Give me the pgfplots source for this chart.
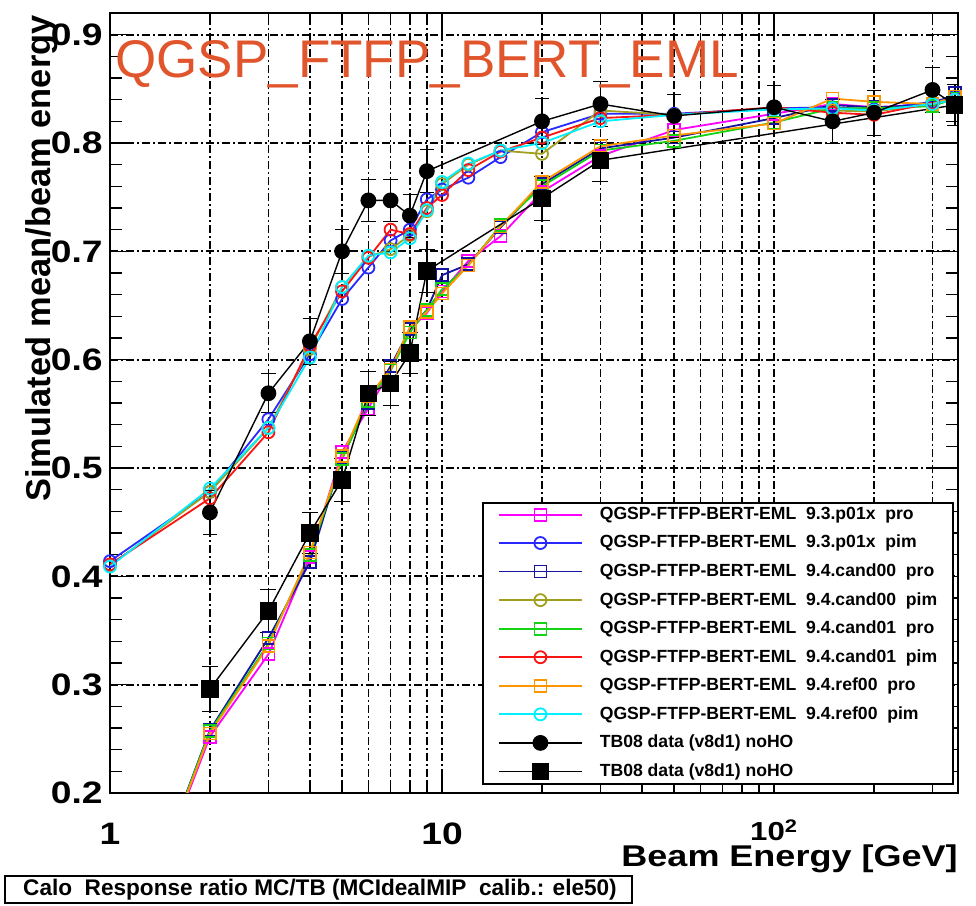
\documentclass[border=0pt]{standalone}
\usepackage{pgfplots}
\usepackage{pgfplotstable}
\pgfplotsset{compat=1.18}
\usepackage{fontspec}
\setmainfont{Liberation Sans}
\newfontfamily\widefont[FakeStretch=1.2]{Liberation Sans}
\definecolor{cMag}{RGB}{255,0,255}
\definecolor{cBlu}{RGB}{40,40,255}
\definecolor{cDbl}{RGB}{20,20,160}
\definecolor{cOli}{RGB}{160,160,30}
\definecolor{cGrn}{RGB}{20,210,20}
\definecolor{cRed}{RGB}{250,20,20}
\definecolor{cOra}{RGB}{255,150,0}
\definecolor{cCya}{RGB}{0,240,255}
\definecolor{cTitle}{RGB}{225,85,45}

\pgfplotstableread{
E   mag   blu   dbl   oli   grn   red   ora   cya
1   0.012 0.414 0.012 0.410 0.012 0.411 0.012 0.409
2   0.252 0.478 0.258 0.478 0.257 0.472 0.255 0.481
3   0.328 0.545 0.343 0.537 0.338 0.533 0.336 0.537
4   0.418 0.605 0.413 0.610 0.420 0.613 0.422 0.602
5   0.515 0.656 0.510 0.667 0.508 0.663 0.511 0.667
6   0.555 0.685 0.560 0.695 0.562 0.694 0.566 0.696
7   0.590 0.710 0.594 0.702 0.590 0.720 0.591 0.699
8   0.628 0.720 0.628 0.715 0.625 0.716 0.630 0.712
9   0.643 0.748 0.646 0.737 0.646 0.740 0.644 0.738
10  0.663 0.757 0.678 0.762 0.665 0.752 0.661 0.764
12  0.691 0.768 0.688 0.780 0.687 0.775 0.687 0.781
15  0.714 0.787 0.722 0.793 0.724 0.792 0.723 0.793
20  0.755 0.810 0.762 0.790 0.760 0.805 0.764 0.800
30  0.788 0.827 0.795 0.830 0.793 0.823 0.797 0.820
50  0.812 0.827 0.805 0.826 0.802 0.826 0.807 0.826
100 0.827 0.832 0.823 0.832 0.819 0.833 0.818 0.831
150 0.836 0.833 0.835 0.830 0.832 0.828 0.841 0.832
200 0.833 0.831 0.833 0.829 0.832 0.826 0.838 0.830
300 0.836 0.838 0.835 0.836 0.834 0.837 0.836 0.836
350 0.840 0.843 0.846 0.840 0.841 0.840 0.843 0.840
}\mc

\pgfplotstableread{
E   v     e
2   0.459 0.020
3   0.569 0.018
4   0.617 0.021
5   0.700 0.020
6   0.747 0.019
7   0.747 0.019
8   0.733 0.020
9   0.774 0.020
20  0.820 0.021
30  0.836 0.021
50  0.825 0.020
100 0.833 0.020
150 0.820 0.020
200 0.828 0.021
300 0.849 0.021
350 0.835 0.019
}\tbpi

\pgfplotstableread{
E   v     e
2   0.296 0.021
3   0.368 0.020
4   0.440 0.019
5   0.489 0.020
6   0.569 0.020
7   0.578 0.020
8   0.606 0.019
9   0.682 0.020
20  0.749 0.020
30  0.784 0.019
350 0.835 0.019
}\tbpro

\begin{document}
\begin{tikzpicture}
\path[use as bounding box] (-55pt,-56.5pt) rectangle (433pt,396.5pt);
\begin{axis}[
  at={(0,0)}, anchor=south west,
  width=424pt, height=390pt, scale only axis,
  xmode=log, log basis x=10,
  xmin=1, xmax=358, ymin=0.2, ymax=0.92,
  xtick={1,10,100},
  xticklabels={1,10,{\raisebox{2pt}{\fontsize{13}{13}\selectfont 10\textsuperscript{2}}}},
  minor xtick={2,3,4,5,6,7,8,9,20,30,40,50,60,70,80,90,200,300},
  ytick={0.2,0.3,0.4,0.5,0.6,0.7,0.8,0.9},
  yticklabels={0.2,0.3,0.4,0.5,0.6,0.7,0.8,0.9},
  minor y tick num=4,
  xmajorgrids, xminorgrids, ymajorgrids,
  major grid style={black, line width=0.85pt, dash pattern=on 4pt off 1.5pt on 1pt off 1.5pt},
  minor grid style={black, line width=0.85pt, dash pattern=on 4pt off 1.5pt on 1pt off 1.5pt},
  major tick length=12pt, minor tick length=6pt,
  every tick/.style={black, line width=0.8pt},
  axis line style={line width=1pt},
  /pgf/number format/assume math mode=true,
  yticklabel style={font=\widefont\bfseries\fontsize{15.5}{16}\selectfont, inner sep=0pt, xshift=-3.5pt},
  xticklabel style={font=\widefont\bfseries\fontsize{15.5}{16}\selectfont, inner sep=0pt, anchor=base, yshift=-26pt},
  xlabel={Beam Energy [GeV]},
  xlabel style={at={(axis description cs:1,0)}, anchor=base east, inner sep=0pt, yshift=-37pt, font=\widefont\bfseries\fontsize{15}{16}\selectfont},
  ylabel={Simulated mean/beam energy},
  ylabel style={at={([xshift=-29.5pt,yshift=-1pt]axis description cs:0,1)}, anchor=base east, inner sep=0pt, font=\bfseries\fontsize{17.2}{18}\selectfont},
  legend style={at={(0.4387,0.373)}, anchor=north west, draw=black, line width=1pt, fill=white,
    inner xsep=7.5pt, inner ysep=2pt, row sep=6.4pt, column sep=8.5pt,
    font=\bfseries\fontsize{8.8}{10}\selectfont, cells={anchor=west}, nodes={inner sep=0pt}},
  legend image code/.code={\draw[mark repeat=2,mark phase=2,#1] plot coordinates {(0pt,0pt) (20.75pt,0pt) (41.5pt,0pt)};},
  mcstyle/.style={line width=0.9pt, mark size=3pt, mark options={solid}},
]
\addplot[cMag, mcstyle, mark=square] table[x=E,y=mag] {\mc};
\addlegendentry{\makebox[169pt][l]{QGSP-FTFP-BERT-EML~~9.3.p01x~~pro}}
\addplot[cBlu, mcstyle, mark=o] table[x=E,y=blu] {\mc};
\addlegendentry{\makebox[169pt][l]{QGSP-FTFP-BERT-EML~~9.3.p01x~~pim}}
\addplot[cDbl, mcstyle, mark=square] table[x=E,y=dbl] {\mc};
\addlegendentry{\makebox[169pt][l]{QGSP-FTFP-BERT-EML~~9.4.cand00~~pro}}
\addplot[cOli, mcstyle, mark=o] table[x=E,y=oli] {\mc};
\addlegendentry{\makebox[169pt][l]{QGSP-FTFP-BERT-EML~~9.4.cand00~~pim}}
\addplot[cGrn, mcstyle, mark=square] table[x=E,y=grn] {\mc};
\addlegendentry{\makebox[169pt][l]{QGSP-FTFP-BERT-EML~~9.4.cand01~~pro}}
\addplot[cRed, mcstyle, mark=o] table[x=E,y=red] {\mc};
\addlegendentry{\makebox[169pt][l]{QGSP-FTFP-BERT-EML~~9.4.cand01~~pim}}
\addplot[cOra, mcstyle, mark=square] table[x=E,y=ora] {\mc};
\addlegendentry{\makebox[169pt][l]{QGSP-FTFP-BERT-EML~~9.4.ref00~~pro}}
\addplot[cCya, mcstyle, mark=o] table[x=E,y=cya] {\mc};
\addlegendentry{\makebox[169pt][l]{QGSP-FTFP-BERT-EML~~9.4.ref00~~pim}}
\addplot[black, line width=0.7pt, mark=*, mark size=3.6pt, mark options={solid},
  error bars/.cd, y dir=both, y explicit, error bar style={line width=0.8pt}]
  table[x=E,y=v,y error=e] {\tbpi};
\addlegendentry{\makebox[169pt][l]{TB08 data (v8d1) noHO}}
\addplot[black, line width=0.7pt, mark=square*, mark size=4pt, mark options={solid},
  error bars/.cd, y dir=both, y explicit, error bar style={line width=0.8pt}]
  table[x=E,y=v,y error=e] {\tbpro};
\addlegendentry{\makebox[169pt][l]{TB08 data (v8d1) noHO}}
\node[anchor=base west, inner sep=0pt, text=cTitle, font=\fontsize{26.5}{27}\selectfont]
  at (rel axis cs:0.0059,0.917) {QGSP\_FTFP\_BERT\_EML};
\end{axis}
\draw[line width=1.2pt] (-52.5pt,-55pt) rectangle (261pt,-41.5pt);
\node[inner sep=0pt, font=\bfseries\fontsize{11.3}{12}\selectfont] at (105pt,-48.5pt)
  {Calo~~Response ratio MC/TB (MCIdealMIP~~calib.: ele50)};
\end{tikzpicture}
\end{document}
